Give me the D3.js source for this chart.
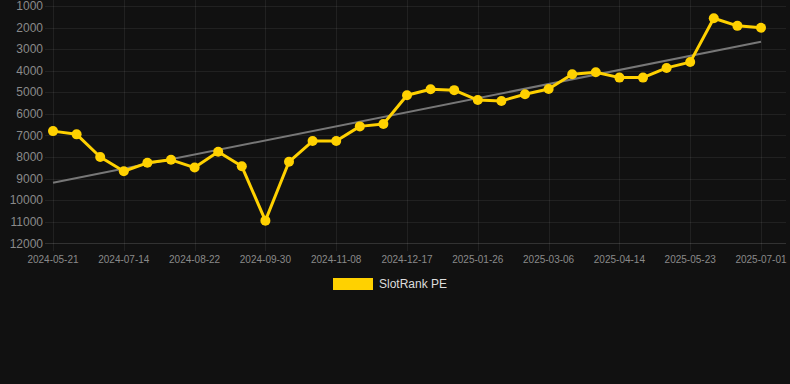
<!DOCTYPE html>
<html><head><meta charset="utf-8">
<script src="https://cdn.jsdelivr.net/npm/d3@7/dist/d3.min.js"></script>
<style>html,body{margin:0;padding:0;background:#111111;}svg{display:block;}</style>
</head><body><svg id="c" width="790" height="384"></svg>
<script>
const categories = ["2024-05-21","2024-06-18","2024-07-01","2024-07-14","2024-07-27","2024-08-09","2024-08-22","2024-09-04","2024-09-17","2024-09-30","2024-10-13","2024-10-26","2024-11-08","2024-11-21","2024-12-04","2024-12-17","2024-12-30","2025-01-13","2025-01-26","2025-02-08","2025-02-21","2025-03-06","2025-03-19","2025-04-01","2025-04-14","2025-04-27","2025-05-10","2025-05-23","2025-06-05","2025-06-18","2025-07-01"];
const values = [6800,6950,8000,8660,8270,8130,8490,7760,8430,10950,8220,7260,7260,6580,6470,5140,4860,4900,5360,5400,5090,4850,4160,4070,4320,4320,3870,3600,1570,1920,2010];
const yTicks = [1000,2000,3000,4000,5000,6000,7000,8000,9000,10000,11000,12000];
const seriesName = "SlotRank PE";

const svg = d3.select("#c");
const font = "'Liberation Sans', Arial, Helvetica, sans-serif";
const x = d3.scalePoint().domain(categories).range([53, 761]);
const y = d3.scaleLinear().domain([1000, 12000]).range([6, 243.3]);
const gridColor = "rgba(255,255,255,0.07)";

// horizontal grid
svg.append("g").selectAll("line").data(yTicks).join("line")
  .attr("x1", 45).attr("x2", 786)
  .attr("y1", d => Math.round(y(d)) + 0.5).attr("y2", d => Math.round(y(d)) + 0.5)
  .attr("stroke", d => d === 12000 ? "rgba(255,255,255,0.14)" : gridColor).attr("stroke-width", 1);

// vertical grid at shown labels
const shown = categories.filter((d, i) => i % 3 === 0);
svg.append("g").selectAll("line").data(shown).join("line")
  .attr("x1", d => Math.round(x(d)) + 0.5).attr("x2", d => Math.round(x(d)) + 0.5)
  .attr("y1", 0).attr("y2", 251)
  .attr("stroke", gridColor).attr("stroke-width", 1);

// y labels
svg.append("g").selectAll("text").data(yTicks).join("text")
  .attr("x", 43).attr("y", d => y(d)).attr("dy", "0.35em")
  .attr("text-anchor", "end").attr("font-family", font).attr("font-size", 12)
  .attr("fill", "#8a8a8a").text(d => d);

// x labels
svg.append("g").selectAll("text").data(shown).join("text")
  .attr("x", d => x(d)).attr("y", 259).attr("dy", "0.35em")
  .attr("text-anchor", "middle").attr("font-family", font).attr("font-size", 10)
  .attr("fill", "#8a8a8a").text(d => d);

// trend line (linear regression)
const n = values.length;
const idx = d3.range(n);
const mx = d3.mean(idx), my = d3.mean(values);
const slope = d3.sum(idx, i => (i - mx) * (values[i] - my)) / d3.sum(idx, i => (i - mx) ** 2);
const icpt = my - slope * mx;
svg.append("line")
  .attr("x1", x(categories[0])).attr("y1", y(icpt))
  .attr("x2", x(categories[n - 1])).attr("y2", y(icpt + slope * (n - 1)))
  .attr("stroke", "#777777").attr("stroke-width", 2);

// series line
const line = d3.line().x((d, i) => x(categories[i])).y(d => y(d));
svg.append("path").datum(values).attr("d", line)
  .attr("fill", "none").attr("stroke", "#FFD100").attr("stroke-width", 3).attr("stroke-linejoin", "round");
svg.append("g").selectAll("circle").data(values).join("circle")
  .attr("cx", (d, i) => x(categories[i])).attr("cy", d => y(d)).attr("r", 5)
  .attr("fill", "#FFD100");

// legend
svg.append("rect").attr("x", 333).attr("y", 278).attr("width", 40).attr("height", 12).attr("fill", "#FFD100");
svg.append("text").attr("x", 379).attr("y", 284).attr("dy", "0.35em")
  .attr("font-family", font).attr("font-size", 12).attr("fill", "#dddddd").text(seriesName);
</script></body></html>
